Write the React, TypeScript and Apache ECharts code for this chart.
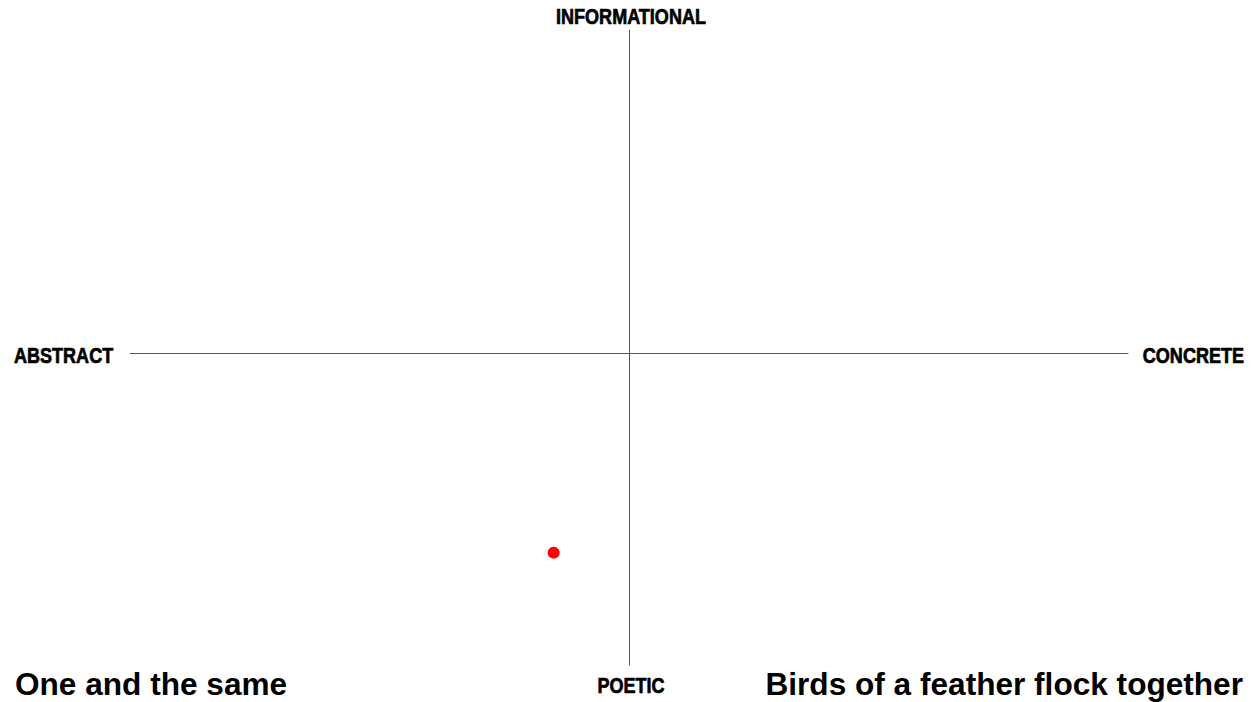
import React, { useEffect, useRef } from "react";
import * as echarts from "echarts";

const points: [number, number][] = [[-0.151, -0.64]];
const axisLabels = { top: "INFORMATIONAL", bottom: "POETIC", left: "ABSTRACT", right: "CONCRETE" };
const captions = ["One and the same", "Birds of a feather flock together"];
const xRange = [-1, 1];
const yRange = [-1, 1.035];

export default function App() {
  const ref = useRef<HTMLDivElement>(null);
  useEffect(() => {
    if (!ref.current) return;
    const chart = echarts.init(ref.current, undefined, { renderer: "svg" });
    const sans = "'Liberation Sans', Arial, Helvetica, sans-serif";
    const axisText = { fontFamily: sans, fontWeight: "bold", fontSize: 22, fill: "#000", stroke: "#000", lineWidth: 0.7, textVerticalAlign: "middle" } as any;
    const sx = 0.82;
    chart.setOption({
      animation: false,
      backgroundColor: "#fff",
      grid: { left: 130, right: 124, top: 30, bottom: 37 },
      xAxis: {
        type: "value", min: xRange[0], max: xRange[1],
        axisLine: { onZero: true, lineStyle: { color: "#555", width: 1 } },
        axisTick: { show: false }, axisLabel: { show: false }, splitLine: { show: false },
      },
      yAxis: {
        type: "value", min: yRange[0], max: yRange[1],
        axisLine: { onZero: true, lineStyle: { color: "#555", width: 1 } },
        axisTick: { show: false }, axisLabel: { show: false }, splitLine: { show: false },
      },
      series: [{
        type: "scatter", data: points, symbolSize: 12,
        itemStyle: { color: "#ff0000", opacity: 1 },
      }],
      graphic: [
        { type: "text", x: 631, y: 16, scaleX: sx, style: { ...axisText, text: axisLabels.top, textAlign: "center" } },
        { type: "text", x: 631, y: 685, scaleX: sx, style: { ...axisText, text: axisLabels.bottom, textAlign: "center" } },
        { type: "text", x: 14, y: 355, scaleX: sx, style: { ...axisText, text: axisLabels.left, textAlign: "left" } },
        { type: "text", x: 1244, y: 355, scaleX: sx, style: { ...axisText, text: axisLabels.right, textAlign: "right" } },
        { type: "text", x: 15, y: 684, style: { text: captions[0], fontFamily: sans, fontWeight: "bold", fontSize: 31.6, fill: "#000", textAlign: "left", textVerticalAlign: "middle" } },
        { type: "text", x: 1243, y: 684, style: { text: captions[1], fontFamily: sans, fontWeight: "bold", fontSize: 31.6, fill: "#000", textAlign: "right", textVerticalAlign: "middle" } },
      ],
    });
    return () => chart.dispose();
  }, []);
  return <div ref={ref} style={{ width: 1252, height: 702, position: "absolute", left: 0, top: 0 }} />;
}
